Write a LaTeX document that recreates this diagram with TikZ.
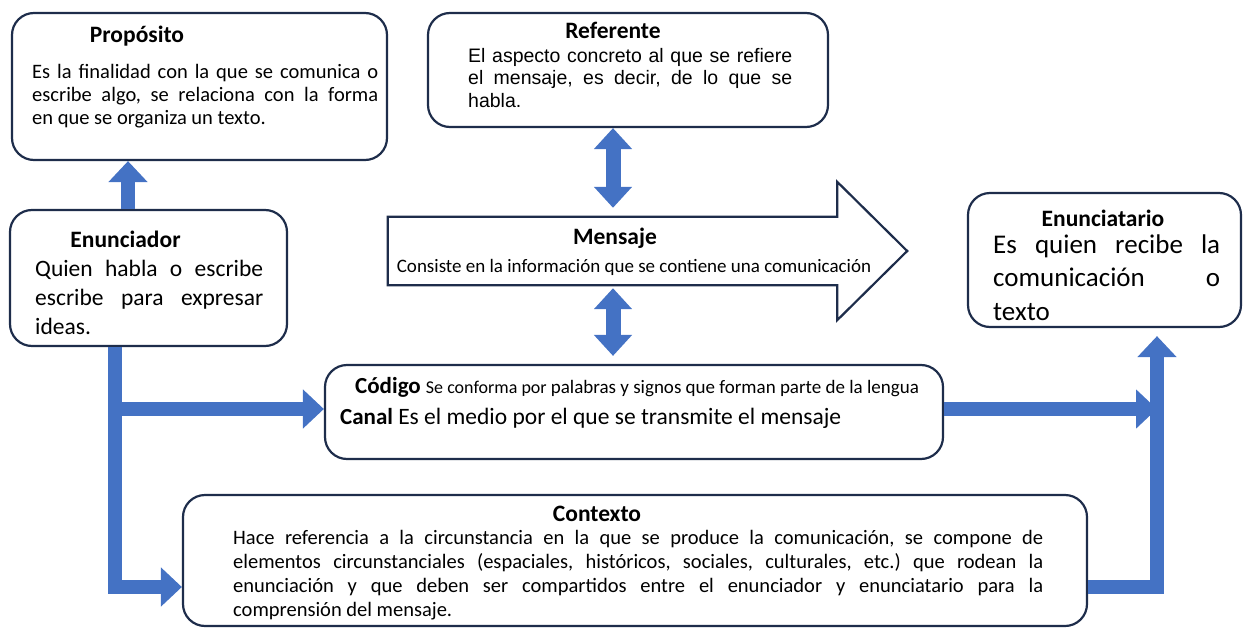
\documentclass[tikz,border=0pt]{standalone}
\usepackage{fontspec}
\setmainfont{Carlito}
\newfontfamily\arialfont{Liberation Sans}
\usetikzlibrary{arrows.meta}
\definecolor{boxline}{HTML}{1E2D4B}
\definecolor{arrowblue}{HTML}{4472C4}
\tikzset{
  box/.style={draw=boxline, line width=2.2pt, rounded corners=22pt, fill=white, inner sep=0pt},
  title/.style={font=\bfseries\fontsize{23.5}{28}\selectfont, inner sep=0pt, anchor=base},
  body/.style={align=justify, inner sep=0pt, anchor=base west},
  blockarrow/.style={draw=arrowblue, line width=14pt, -{Triangle[width=38pt,length=21pt]}},
  dblarrow/.style={draw=arrowblue, line width=15pt, {Triangle[width=37pt,length=21pt]}-{Triangle[width=37pt,length=21pt]}}
}
\frenchspacing

\begin{document}
\begin{tikzpicture}[x=1pt, y=-1pt]
\useasboundingbox (0,0) rectangle (1243,629);
% boxes
\node[box, minimum width=375pt, minimum height=147pt] (proposito) at (199.5,86.5) {};
\node[box, minimum width=400pt, minimum height=114pt] (referente) at (628,70) {};
\node[box, minimum width=277pt, minimum height=136pt] (enunciador) at (148.5,278) {};
\node[box, minimum width=273pt, minimum height=134pt] (enunciatario) at (1104.5,260) {};
\node[box, minimum width=618pt, minimum height=94pt] (codigo) at (634,412) {};
\node[box, minimum width=904pt, minimum height=131pt] (contexto) at (635,560.5) {};
% mensaje arrow
\node[inner sep=0pt, minimum width=449pt, minimum height=68pt] (mensaje) at (612.5,251) {};
\draw[draw=boxline, line width=2.2pt, fill=white] (mensaje.north west) -- (mensaje.north east) -- ++(0,-35)
  -- ([xshift=70pt]mensaje.east) -- ([yshift=-35pt]mensaje.south east) -- (mensaje.south east)
  -- (mensaje.south west) -- cycle;
% lanes for the connectors
\coordinate (upx) at (128,0);
\coordinate (leftx) at (115,0);
\coordinate (midx) at (613,0);
\coordinate (rightx) at (1157,0);
\coordinate (codey) at (0,409);
\coordinate (ctxy) at (0,587);
% connectors
\draw[blockarrow] (enunciador.north -| upx) -- (proposito.south -| upx);
\draw[blockarrow] (enunciador.south -| leftx) |- (contexto.west |- ctxy);
\draw[blockarrow] (codey -| leftx) -- (codigo.west |- codey);
\draw[blockarrow] (codigo.east |- codey) -- (codey -| rightx);
\draw[blockarrow] (contexto.east |- ctxy) -| ([yshift=-8pt]enunciatario.south -| rightx);
\draw[dblarrow, shorten >=9pt] (referente.south -| midx) -- (mensaje.north -| midx);
\draw[dblarrow, shorten <=3pt, shorten >=8pt] (mensaje.south -| midx) -- (codigo.north -| midx);
% texts
\node[title] (propositoT) at (137,42) {Propósito};
\node[body, text width=346pt, font=\fontsize{20.5}{23}\selectfont] (propositoB) at (32,78)
  {Es la finalidad con la que se comunica o\linebreak escribe algo, se relaciona con la forma\linebreak en que se organiza un texto.};
\node[title] (referenteT) at (613,38) {Referente};
\node[body, text width=324pt, font=\arialfont\fontsize{19.5}{22.5}\selectfont] (referenteB) at (468,62)
  {El aspecto concreto al que se refiere\linebreak el mensaje, es decir, de lo que se\linebreak habla.};
\node[title] (enunciadorT) at (125.5,247) {Enunciador};
\node[body, text width=228pt, font=\fontsize{23.5}{29}\selectfont] (enunciadorB) at (35,276)
  {Quien habla o escribe\linebreak escribe para expresar\linebreak ideas.};
\node[title] (mensajeT) at (615,244) {Mensaje};
\node[inner sep=0pt, anchor=base, font=\fontsize{19}{22}\selectfont] (mensajeB) at (634,272)
  {Consiste en la información que se contiene una comunicación};
\node[title] (enunciatarioT) at (1103,226) {Enunciatario};
\node[body, text width=227pt, font=\fontsize{27}{33.5}\selectfont] (enunciatarioB) at (993,253)
  {Es quien recibe la\linebreak comunicación o\linebreak texto};
\node[inner sep=0pt, anchor=base west] (codigoT) at (355,393)
  {{\bfseries\fontsize{23}{26}\selectfont Código }{\fontsize{18}{20}\selectfont Se conforma por }{\fontsize{19}{20}\selectfont palabras y signos que forman parte de la lengua}};
\node[inner sep=0pt, anchor=base west] (canalT) at (340,424)
  {{\bfseries\fontsize{23}{26}\selectfont Canal }{\fontsize{23.5}{26}\selectfont Es el medio por el que se transmite el mensaje}};
\node[title] (contextoT) at (597,521) {Contexto};
\node[body, text width=810pt, font=\fontsize{20.5}{24}\selectfont] (contextoB) at (233,544)
  {Hace referencia a la circunstancia en la que se produce la comunicación, se compone de\linebreak elementos circunstanciales (espaciales, históricos, sociales, culturales, etc.) que rodean la\linebreak enunciación y que deben ser compartidos entre el enunciador y enunciatario para la\linebreak comprensión del mensaje.};
\end{tikzpicture}
\end{document}
